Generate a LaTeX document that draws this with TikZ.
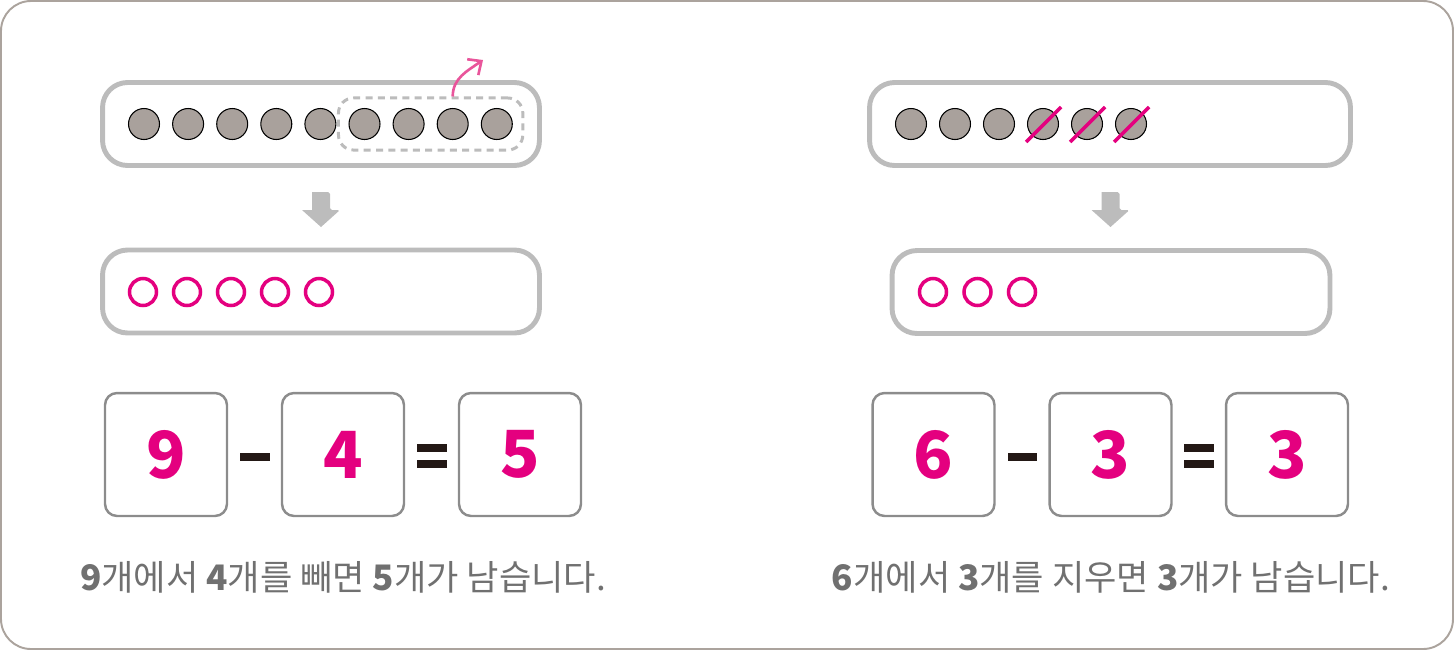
\documentclass[tikz,border=0pt]{standalone}
\usepackage{fontspec}
\setmainfont{Noto Sans CJK KR}
\usetikzlibrary{arrows.meta,fit}

\definecolor{framegray}{HTML}{ABA39D}
\definecolor{panelgray}{HTML}{BCBCBC}
\definecolor{boxgray}{HTML}{8C8C8C}
\definecolor{dotfill}{HTML}{A9A19C}
\definecolor{magenta}{HTML}{E4007F}
\definecolor{arrowpink}{HTML}{E9559B}
\definecolor{signblack}{HTML}{231815}
\definecolor{textgray}{HTML}{707070}

\tikzset{
  panel/.style={draw=panelgray,line width=2.8pt,rounded corners=0.5cm,minimum height=1.66cm},
  dot/.style={circle,fill=dotfill,draw=black,line width=0.6pt,minimum size=0.62cm,inner sep=0pt},
  ring/.style={circle,draw=magenta,line width=2pt,minimum size=0.54cm,inner sep=0pt},
  group/.style={draw=panelgray,line width=1.7pt,dash pattern=on 4pt off 3pt,rounded corners=0.3cm,inner sep=0.2cm},
  slash/.style={draw=magenta,line width=2pt},
  numbox/.style={draw=boxgray,line width=1.4pt,rounded corners=0.24cm,minimum width=2.44cm,minimum height=2.46cm,
    text=magenta,font=\fontsize{37}{37}\selectfont\bfseries},
  sentence/.style={text=textgray,font=\fontsize{20}{24}\selectfont}
}

\begin{document}
\begin{tikzpicture}[x=0.02cm,y=-0.02cm]
    \useasboundingbox (0,0) rectangle (1454,650);
    \draw[framegray,line width=1.1pt,rounded corners=0.6cm] (1,1) rectangle (1453,649);

    % left: 9 - 4 = 5
    \node[panel,minimum width=8.74cm] (lt) at (321,124) {};
    \node[panel,minimum width=8.74cm] (lb) at (321,291.5) {};
    \foreach \i in {1,...,9}
        \node[dot] (l\i) at (144+44.1*\i-44.1,124) {};
    \node[group,fit=(l6)(l9)] (lg) {};
    \coordinate (lto) at (483,60);
    \draw[arrowpink,line width=1.5pt,-{Straight Barb[length=6pt,width=11pt]}] (lg.north -| l8) to[out=90,in=215] (lto);
    \foreach \i in {1,...,5}
        \node[ring] (lr\i) at (143+44*\i-44,292) {};
    \fill[panelgray,rounded corners=1pt] (312,192) -- (330,192) -- (330,210) -- (340,210) [sharp corners] -- (321,227) -- (302,210) -- (312,210) -- cycle;
    \node[numbox] (la) at (166,454.5) {9};
    \node[numbox] (lb2) at (343,454.5) {4};
    \node[numbox] (lc) at (520,454.5) {5};
    \fill[signblack] (240,453) rectangle (270,461);
    \fill[signblack] (417,444) rectangle (447,452);
    \fill[signblack] (417,460) rectangle (447,468);
    \node[sentence] (ls) at (343,577) {\textbf{9}개에서 \textbf{4}개를 빼면 \textbf{5}개가 남습니다.};

    % right: 6 - 3 = 3
    \node[panel,minimum width=9.62cm] (rt) at (1110,124) {};
    \node[panel,minimum width=8.76cm] (rb) at (1111,292) {};
    \foreach \i in {1,...,6}
        \node[dot] (r\i) at (911+44*\i-44,124) {};
    \foreach \i in {4,5,6}
        \draw[slash] ([shift={(-17,18)}]r\i.center) -- ([shift={(18,-17)}]r\i.center);
    \foreach \i in {1,2,3}
        \node[ring] (rr\i) at (933+44.5*\i-44.5,292) {};
    \fill[panelgray,rounded corners=1pt] (1101.5,192) -- (1119.5,192) -- (1119.5,210) -- (1129.5,210) [sharp corners] -- (1110.5,227) -- (1091.5,210) -- (1101.5,210) -- cycle;
    \node[numbox] (ra) at (933.5,454.5) {6};
    \node[numbox] (rb2) at (1110.5,454.5) {3};
    \node[numbox] (rc) at (1287,454.5) {3};
    \fill[signblack] (1008,453) rectangle (1037,461);
    \fill[signblack] (1184,444) rectangle (1214,452);
    \fill[signblack] (1184,460) rectangle (1214,468);
    \node[sentence] (rs) at (1111,577) {\textbf{6}개에서 \textbf{3}개를 지우면 \textbf{3}개가 남습니다.};
\end{tikzpicture}
\end{document}
